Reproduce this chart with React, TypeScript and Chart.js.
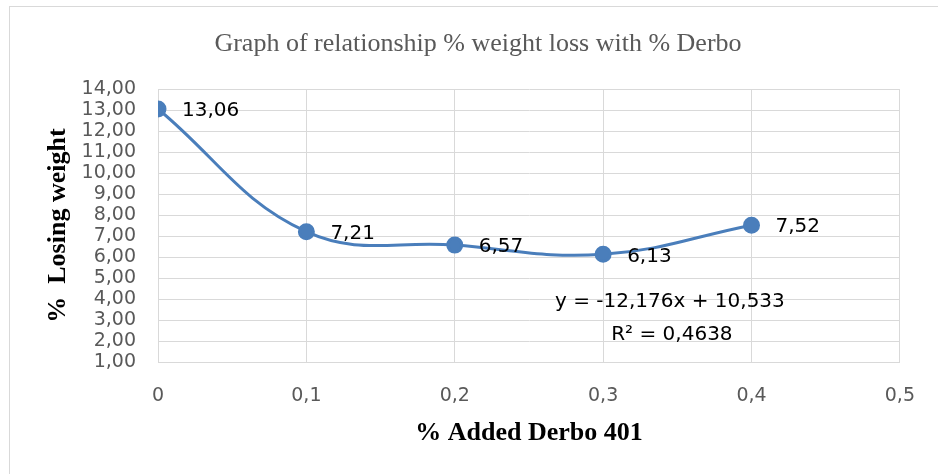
import React, { useEffect, useRef } from "react";
import { Chart, registerables } from "chart.js";

Chart.register(...registerables);

// ---- data ----
const xValues = [0, 0.1, 0.2, 0.3, 0.4];
const yValues = [13.06, 7.21, 6.57, 6.13, 7.52];
const titleText = "Graph of relationship % weight loss with % Derbo";
const xTitleText = "% Added Derbo 401";
const yTitleText = "%  Losing weight";
const trendEquation = "y = -12,176x + 10,533";
const trendR2 = "R² = 0,4638";

const SERIF = '"Liberation Serif", "Times New Roman", serif';
const SANS = '"DejaVu Sans", sans-serif';
const GRID = "#d9d9d9";
const TICK = "#595959";
const BLUE = "#4a7ebb";

const fmtComma = (v: number, d: number) => v.toFixed(d).replace(".", ",");

const framePlugin = {
  id: "frame",
  beforeDraw(chart: any) {
    const ctx = chart.ctx;
    ctx.save();
    ctx.fillStyle = "#ffffff";
    ctx.fillRect(0, 0, chart.width, chart.height);
    ctx.strokeStyle = GRID;
    ctx.lineWidth = 1;
    ctx.strokeRect(9.5, 6.5, chart.width + 20, chart.height + 20);
    ctx.restore();
  },
};

const labelPlugin = {
  id: "pointLabels",
  afterDatasetsDraw(chart: any) {
    const ctx = chart.ctx;
    const meta = chart.getDatasetMeta(0);
    ctx.save();
    ctx.font = `20px ${SANS}`;
    ctx.fillStyle = "#000000";
    ctx.textBaseline = "middle";
    ctx.textAlign = "left";
    meta.data.forEach((pt: any, i: number) => {
      ctx.fillText(fmtComma(yValues[i], 2), pt.x + 24, pt.y + 2);
    });
    const xs = chart.scales.x;
    const ys = chart.scales.y;
    const ax = xs.getPixelForValue(0.345);
    const ay = ys.getPixelForValue(3.87);
    ctx.textAlign = "center";
    ctx.fillText(trendEquation, ax, ay);
    ctx.fillText(trendR2, ax + 2, ay + 33);
    ctx.restore();
  },
};

export default function App() {
  const ref = useRef<HTMLCanvasElement | null>(null);

  useEffect(() => {
    if (!ref.current) return;
    const chart = new Chart(ref.current, {
      type: "line",
      data: {
        datasets: [
          {
            data: xValues.map((x, i) => ({ x, y: yValues[i] })),
            borderColor: BLUE,
            backgroundColor: BLUE,
            pointBackgroundColor: BLUE,
            pointBorderColor: BLUE,
            borderWidth: 3,
            pointRadius: 7,
            pointHoverRadius: 7,
            tension: 0.4,
            fill: false,
          },
        ],
      },
      options: {
        responsive: false,
        animation: false,
        devicePixelRatio: 1,
        layout: { padding: { left: 53, right: 35, top: 0, bottom: 25 } },
        plugins: {
          legend: { display: false },
          tooltip: { enabled: false },
          title: {
            display: true,
            text: titleText,
            color: TICK,
            font: { family: SERIF, size: 26, weight: "normal", lineHeight: 1.2 },
            padding: { top: 29, bottom: 29 },
          },
        },
        scales: {
          x: {
            type: "linear",
            min: 0,
            max: 0.5,
            ticks: {
              stepSize: 0.1,
              padding: 23,
              color: TICK,
              maxRotation: 0,
              autoSkip: false,
              font: { family: SANS, size: 19 },
              callback: (v: any) => (Math.abs(v) < 1e-9 ? "0" : fmtComma(Number(v), 1)),
            },
            grid: { color: GRID, drawTicks: false, lineWidth: 1 },
            border: { color: GRID },
            title: {
              display: true,
              text: xTitleText,
              color: "#000000",
              font: { family: SERIF, size: 26, weight: "bold", lineHeight: 1.2 },
              padding: 0,
            },
            afterFit: (s: any) => {
              s.height = 87;
            },
          },
          y: {
            type: "linear",
            min: 1,
            max: 14,
            ticks: {
              stepSize: 1,
              padding: 22,
              color: TICK,
              autoSkip: false,
              font: { family: SANS, size: 19 },
              callback: (v: any) => fmtComma(Number(v), 2),
            },
            grid: { color: GRID, drawTicks: false, lineWidth: 1 },
            border: { color: GRID },
            title: {
              display: true,
              text: yTitleText,
              color: "#000000",
              font: { family: SERIF, size: 26, weight: "bold", lineHeight: 0.4 },
              padding: 0,
            },
            afterFit: (s: any) => {
              s.width = 105;
            },
          },
        },
      },
      plugins: [framePlugin, labelPlugin],
    } as any);
    return () => chart.destroy();
  }, []);

  return (
    <div style={{ position: "absolute", left: 0, top: 0, width: 938, height: 474, background: "#fff" }}>
      <canvas ref={ref} width={938} height={474} style={{ display: "block", width: 938, height: 474 }} />
    </div>
  );
}
